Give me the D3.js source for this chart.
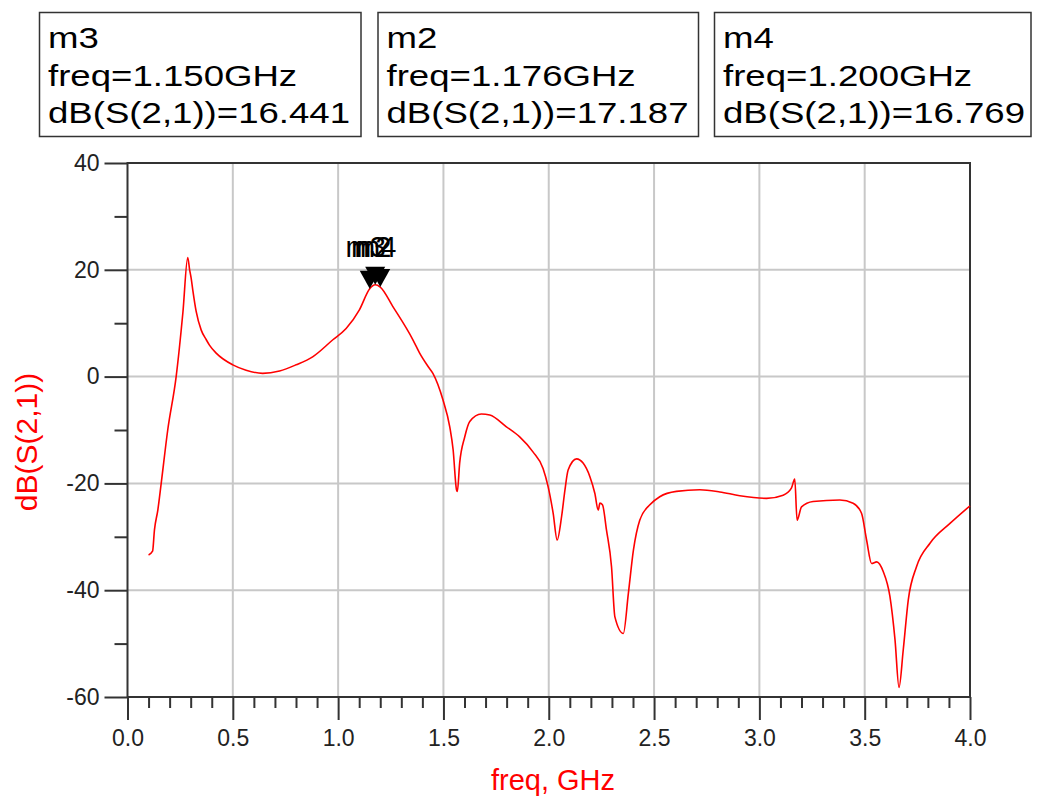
<!DOCTYPE html>
<html lang="en">
<head>
    <meta charset="UTF-8">
    <title>dB(S(2,1))</title>
    <script type="text/javascript" src="https://cdn.jsdelivr.net/npm/d3@7"></script>
    <style>
        body { margin: 0; background: #fff; }
        text { font-family: "Liberation Sans", Arial, sans-serif; }
    </style>
</head>
<body>
<script type="text/javascript">
    let width = 1038, height = 796;

    // 曲线数据 (freq GHz, dB)
    let freq = [0.100, 0.119, 0.128, 0.144, 0.160, 0.191, 0.231, 0.263, 0.286, 0.295,
        0.302, 0.310, 0.326, 0.350, 0.374, 0.389, 0.421, 0.500, 0.563, 0.642,
        0.722, 0.800, 0.879, 0.975, 1.038, 1.101, 1.150, 1.176, 1.200, 1.260,
        1.355, 1.387, 1.427, 1.450, 1.498, 1.530, 1.546, 1.562, 1.566, 1.577,
        1.601, 1.625, 1.680, 1.720, 1.799, 1.862, 1.925, 1.973, 1.997, 2.021,
        2.040, 2.061, 2.077, 2.092, 2.132, 2.163, 2.195, 2.219, 2.235, 2.243,
        2.255, 2.274, 2.298, 2.314, 2.354, 2.378, 2.402, 2.432, 2.480, 2.527,
        2.606, 2.717, 2.812, 2.907, 3.034, 3.113, 3.152, 3.168, 3.179, 3.200,
        3.255, 3.382, 3.445, 3.485, 3.509, 3.533, 3.557, 3.588, 3.620, 3.644,
        3.663, 3.683, 3.707, 3.746, 3.810, 3.905, 4.000];
    let s21 = [-33.4, -32.7, -28.7, -25.0, -20.0, -10.0, 0.0, 12.0, 22.3, 20.0,
        18.5, 16.2, 12.2, 8.7, 6.9, 5.9, 4.4, 2.2, 1.2, 0.6,
        1.05, 2.2, 3.7, 6.9, 9.0, 12.5, 16.441, 17.187, 16.769, 13.1,
        6.9, 4.4, 1.9, 0.6, -4.4, -9.4, -13.7, -21.2, -21.5, -16.2,
        -11.3, -8.4, -7.0, -7.2, -9.4, -11.3, -14.1, -17.2, -20.6, -25.6,
        -30.6, -26.2, -21.2, -17.5, -15.4, -16.2, -18.7, -21.9, -25.0, -23.7,
        -24.0, -28.7, -35.6, -45.0, -48.1, -40.6, -32.5, -26.9, -24.0, -22.5,
        -21.5, -21.2, -21.6, -22.3, -22.8, -22.2, -20.9, -19.2, -26.9, -24.4,
        -23.4, -23.1, -23.7, -25.6, -30.6, -35.0, -34.7, -36.5, -41.2, -49.3,
        -58.2, -51.2, -41.8, -35.6, -31.2, -27.5, -24.2];

    // 标记
    let markerNames = ['m3', 'm2', 'm4'];
    let markerFreq = [1.150, 1.176, 1.200];
    let markerVal = [16.441, 17.187, 16.769];

    // 刻度
    let xTicks = [0.0, 0.5, 1.0, 1.5, 2.0, 2.5, 3.0, 3.5, 4.0];
    let yTicks = [-60, -40, -20, 0, 20, 40];

    let svg = d3.select('body').append('svg')
        .attr('width', width)
        .attr('height', height);
    svg.append('rect').attr('width', width).attr('height', height).attr('fill', '#fff');

    let pLeft = 127.5, pRight = 970, pTop = 163, pBottom = 697;
    let x = d3.scaleLinear().domain([0, 4]).range([pLeft, pRight]);
    let y = d3.scaleLinear().domain([-60, 40]).range([pBottom, pTop]);

    // 网格
    let grid = svg.append('g').attr('stroke', '#c8c8c8').attr('stroke-width', 2);
    grid.selectAll('.gx').data(xTicks.slice(1, -1)).enter().append('line')
        .attr('x1', d => x(d)).attr('x2', d => x(d))
        .attr('y1', pTop).attr('y2', pBottom);
    grid.selectAll('.gy').data(yTicks.slice(1, -1)).enter().append('line')
        .attr('y1', d => y(d)).attr('y2', d => y(d))
        .attr('x1', pLeft).attr('x2', pRight);

    // 次刻度
    let xMinor = d3.range(0, 41).map(d => d / 10).filter(d => Math.round(d * 10) % 5 !== 0);
    let yMinor = [-50, -30, -10, 10, 30];

    function styleAxis(g) {
        g.select('.domain').remove();
        g.selectAll('.tick line').attr('stroke', '#333').attr('stroke-width', 2);
        g.selectAll('.tick text').attr('fill', '#222').style('font-size', '23px')
            .style('font-family', '"Liberation Sans", Arial, sans-serif');
    }

    svg.append('g').attr('transform', 'translate(0,' + pBottom + ')')
        .call(d3.axisBottom(x).tickValues(xMinor).tickSize(11).tickFormat(''))
        .call(styleAxis);
    svg.append('g').attr('transform', 'translate(0,' + pBottom + ')')
        .call(d3.axisBottom(x).tickValues(xTicks).tickSize(23).tickPadding(10).tickFormat(d3.format('.1f')))
        .call(styleAxis);
    svg.append('g').attr('transform', 'translate(' + pLeft + ',0)')
        .call(d3.axisLeft(y).tickValues(yMinor).tickSize(13).tickFormat(''))
        .call(styleAxis);
    svg.append('g').attr('transform', 'translate(' + pLeft + ',0)')
        .call(d3.axisLeft(y).tickValues(yTicks).tickSize(23).tickPadding(5).tickFormat(d => d < 0 ? '-' + Math.abs(d) : d))
        .call(styleAxis);

    // 边框
    svg.append('rect')
        .attr('x', pLeft).attr('y', pTop)
        .attr('width', pRight - pLeft).attr('height', pBottom - pTop)
        .attr('fill', 'none').attr('stroke', '#333').attr('stroke-width', 2);

    // 曲线
    let line = d3.line()
        .x((d, i) => x(freq[i]))
        .y(d => y(d))
        .curve(d3.curveMonotoneX);
    svg.append('path')
        .attr('d', line(s21))
        .attr('fill', 'none')
        .attr('stroke', '#ff0000')
        .attr('stroke-width', 1.6);

    // 标记三角形和名字
    let mk = svg.selectAll('.mk').data(markerNames).enter().append('g');
    mk.append('path')
        .attr('d', (d, i) => {
            let px = x(markerFreq[i]), py = y(markerVal[i]);
            return 'M' + px + ',' + py + 'L' + (px - 10) + ',' + (py - 18) + 'L' + (px + 10) + ',' + (py - 18) + 'Z';
        })
        .attr('fill', '#000');
    mk.append('text')
        .attr('x', (d, i) => x(markerFreq[i]) - 4)
        .attr('y', 257)
        .attr('text-anchor', 'middle')
        .style('font-size', '29px')
        .attr('fill', '#000')
        .text(d => d);

    // 标记读数框
    let boxX = [39.5, 378, 714.5];
    let boxW = [321.5, 320.5, 316.5];
    markerNames.forEach(function (name, i) {
        let g = svg.append('g');
        g.append('rect')
            .attr('x', boxX[i]).attr('y', 12.5)
            .attr('width', boxW[i]).attr('height', 124)
            .attr('fill', '#fff').attr('stroke', '#333').attr('stroke-width', 1.5);
        let lines = [name, 'freq=' + markerFreq[i].toFixed(3) + 'GHz', 'dB(S(2,1))=' + markerVal[i].toFixed(3)];
        lines.forEach(function (t, j) {
            g.append('text')
                .attr('transform', 'translate(' + (boxX[i] + 8.5) + ',' + (47.7 + j * 37.8) + ') scale(1.22,1)')
                .style('font-size', '30px')
                .attr('fill', '#000')
                .text(t);
        });
    });

    // 轴标题
    svg.append('text')
        .attr('x', 553).attr('y', 790)
        .attr('text-anchor', 'middle')
        .attr('fill', '#ff0000')
        .style('font-size', '29px')
        .text('freq, GHz');
    svg.append('text')
        .attr('transform', 'translate(37,442) rotate(-90)')
        .attr('text-anchor', 'middle')
        .attr('fill', '#ff0000')
        .style('font-size', '30px')
        .text('dB(S(2,1))');
</script>
</body>
</html>
